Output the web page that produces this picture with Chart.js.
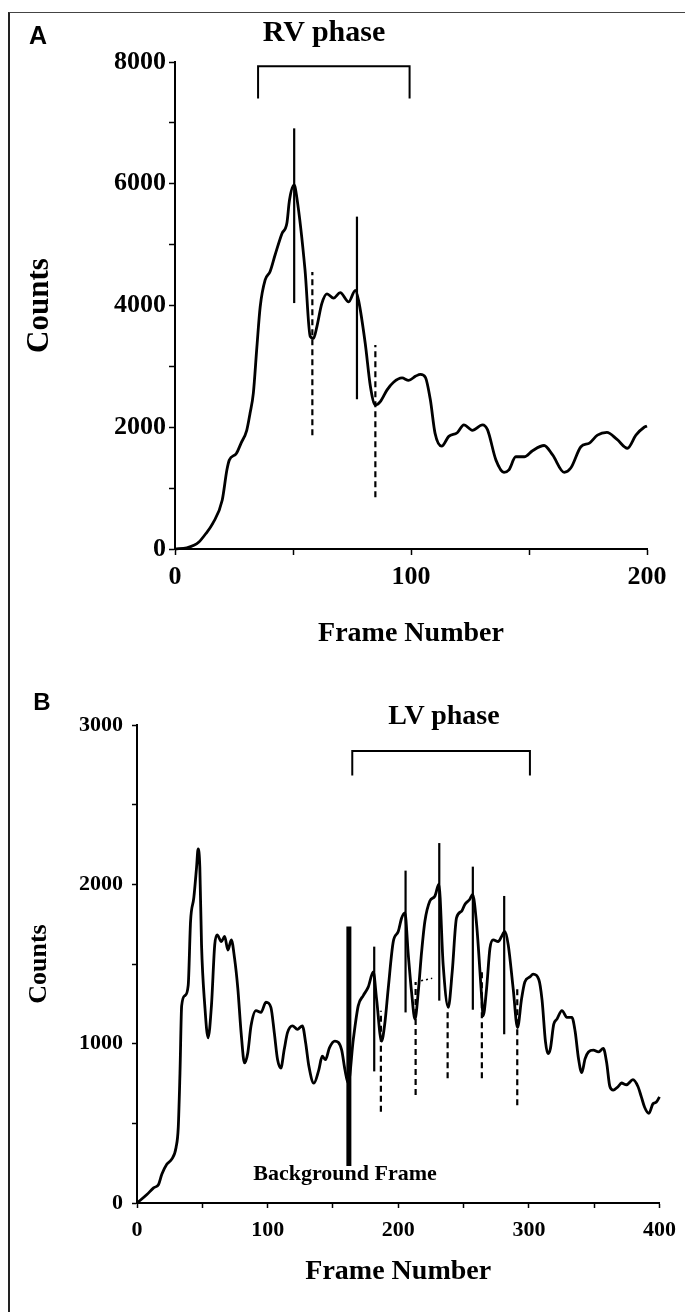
<!DOCTYPE html>
<html>
<head>
<meta charset="utf-8">
<title>RV and LV phase time-activity curves</title>
<script src="https://cdn.jsdelivr.net/npm/chart.js@4.4.1/dist/chart.umd.min.js"></script>
<style>
  body { margin: 0; background: #fff; }
  #page { position: relative; width: 685px; height: 1312px; overflow: hidden; background: #fff; }
  #frame { position: absolute; left: 8px; top: 12px; width: 700px; height: 1320px;
           border-left: 2px solid #222; border-top: 1.5px solid #444; }
  canvas { position: absolute; left: 0; }
  .lbl { position: absolute; transform: translate(-50%, -50%); white-space: nowrap; line-height: 1;
         font-family: 'Liberation Serif', 'Times New Roman', serif; font-weight: bold; color: #000; }
  .panel { font-family: 'Liberation Sans', Arial, sans-serif; }
</style>
</head>
<body>
<div id="page">
  <div id="frame"></div>
  <canvas id="chartA" width="685" height="660" style="top:0"></canvas>
  <canvas id="chartB" width="685" height="652" style="top:660px"></canvas>
  <div class="lbl panel" style="left:38px;top:35px;font-size:25px">A</div>
  <div class="lbl" style="left:324px;top:31px;font-size:30px">RV phase</div>
  <div class="lbl panel" style="left:42px;top:702px;font-size:24px">B</div>
  <div class="lbl" style="left:444px;top:715px;font-size:28px">LV phase</div>
  <div class="lbl" style="left:345px;top:1173px;font-size:22px">Background Frame</div>
</div>
<script>
// ---- Panel A: first pass, frames 0-200 ----
const frameA = [0, 5, 8, 10, 13, 16, 20, 22, 23, 26,
  28, 30.4, 31.8, 33.2, 34.7, 36.1, 38.2, 40.3, 42.4, 45.3,
  47.4, 48.5, 50.5, 51.6, 55.1, 57.3, 58.7, 60.1, 62.2, 64.4,
  67.2, 70, 73.6, 76.4, 77.8, 80.6, 82.8, 84.9, 87, 89.8,
  92.6, 96.2, 99, 102, 104, 106.1, 108.2, 110.2, 113, 116,
  119.6, 122.4, 126, 130.3, 132.4, 136, 139.4, 141.5, 144.4, 148,
  151.5, 156.4, 160, 164.9, 167.7, 172, 175.6, 179, 183, 187.3,
  191.7, 195.3, 198.8, 200];
const countsA = [0, 20, 60, 110, 250, 420, 800, 1300, 1460, 1570,
  1740, 1950, 2230, 2560, 3320, 3980, 4420, 4560, 4830, 5180,
  5350, 5730, 5980, 5780, 4580, 3490, 3460, 3650, 4030, 4190,
  4120, 4210, 4060, 4250, 4080, 3380, 2670, 2365, 2420, 2610,
  2740, 2810, 2770, 2840, 2870, 2820, 2450, 1900, 1690, 1850,
  1910, 2040, 1950, 2040, 1960, 1460, 1260, 1300, 1515, 1515,
  1615, 1700, 1545, 1260, 1330, 1680, 1740, 1870, 1915, 1800,
  1655, 1870, 2000, 2020];

// peak (solid) and trough (dashed) markers
const solidFrameA = [50.5, 77.1];
const solidLowA = [4040, 2460];
const solidHighA = [6910, 5460];
const dashFrameA = [58.2, 84.9];
const dashLowA = [1870, 850];
const dashHighA = [4550, 3350];

// RV phase bracket
const bracketFrameA = [35.2, 35.2, 99.4, 99.4];
const bracketCountA = [7400, 7930, 7930, 7400];

const xLabelsA = [0, 100, 200];
const yLabelsA = [0, 2000, 4000, 6000, 8000];

// ---- Panel B: full study, frames 0-400 ----
const frameB = [0, 7.6, 12.7, 16.5, 19, 22.8, 26.6, 29.9, 31.6, 32.9,
  34.2, 36.7, 39.2, 41, 43.5, 45.6, 46.8, 48.1, 49.4, 51.9,
  54.4, 57, 59.5, 61.3, 64.6, 67.1, 69.6, 72.2, 74.7, 77.2,
  79.7, 82.3, 84.8, 87.3, 91.1, 94.9, 98.7, 102.5, 105.1, 107.6,
  110.1, 112.7, 115.2, 119, 122.8, 126.6, 129.1, 131.6, 135.4, 139.2,
  141.8, 144.3, 147.3, 151.5, 156.6, 159.2, 161.7, 165.6, 169.4, 173.2,
  177, 180.9, 183.4, 187.2, 189.8, 192.3, 196.2, 200, 202.6, 205.1,
  207.7, 210.2, 212.8, 215.3, 217.9, 220.4, 224.2, 228.1, 231.1, 234.4,
  238.3, 241.3, 244.6, 248.5, 251, 254.8, 256.9, 260, 263.8, 265,
  267.6, 270.2, 272.7, 276.5, 279.1, 281.6, 284.2, 288, 291.3, 294.4,
  296.9, 300.8, 303.3, 307.6, 310.1, 312.7, 314.6, 316.5, 319, 321.5,
  325.3, 329.1, 332.9, 335.4, 338, 340.5, 343, 345.6, 349.4, 353.2,
  357, 359.5, 362, 364.6, 368.4, 370.9, 374.7, 379.7, 383.5, 386.1,
  388.6, 391.9, 395, 397.5, 400];
const countsB = [0, 53, 95, 116, 180, 243, 275, 349, 476, 815,
  1239, 1302, 1366, 1768, 1916, 2107, 2223, 2107, 1620, 1239,
  1037, 1239, 1620, 1683, 1641, 1673, 1588, 1652, 1535, 1345,
  1069, 879, 942, 1112, 1207, 1196, 1260, 1228, 1069, 900,
  847, 963, 1069, 1112, 1090, 1112, 1006, 858, 752, 836,
  921, 900, 974, 1016, 963, 836, 752, 1027, 1239, 1302,
  1355, 1450, 1281, 1016, 1133, 1344, 1641, 1704, 1789, 1821,
  1556, 1323, 1154, 1323, 1577, 1768, 1895, 1927, 2001, 1493,
  1228, 1450, 1789, 1831, 1874, 1906, 1937, 1747, 1302, 1175,
  1344, 1599, 1652, 1641, 1673, 1704, 1620, 1344, 1101, 1281,
  1387, 1419, 1436, 1403, 1273, 1013, 937, 970, 1121, 1154,
  1208, 1165, 1165, 1078, 905, 818, 905, 948, 959, 948,
  970, 883, 731, 709, 731, 753, 742, 774, 731, 666,
  601, 562, 623, 633, 666];

const solidFrameB = [181.6, 205.6, 231.4, 257.1, 281.1];
const solidLowB = [826, 1196, 1270, 1213, 1059];
const solidHighB = [1609, 2086, 2259, 2111, 1927];
const dashFrameB = [186.7, 213.3, 237.8, 264, 291.1];
const dashLowB = [572, 678, 783, 783, 614];
const dashHighB = [1207, 1387, 1207, 1471, 1355];

// faint dotted trace left near the second trough
const dotFrameB = [217.5, 226];
const dotCountB = [1395, 1410];

// background frame bar
const bgFrameB = [162.2];
const bgLowB = [233];
const bgHighB = [1736];

// LV phase bracket
const bracketFrameB = [164.8, 164.8, 300.8, 300.8];
const bracketCountB = [2683, 2837, 2837, 2683];

const xLabelsB = [0, 100, 200, 300, 400];
const yLabelsB = [0, 1000, 2000, 3000];

function points(xs, ys) {
    return xs.map((x, i) => ({ x: x, y: ys[i] }));
}

function curve(xs, ys) {
    return {
        data: points(xs, ys),
        borderColor: '#000',
        borderWidth: 2.8,
        pointRadius: 0,
        cubicInterpolationMode: 'monotone',
        clip: false
    };
}

// one vertical segment per marker frame
function markers(xs, lo, hi, width, dash) {
    return xs.map((x, i) => ({
        data: [{ x: x, y: lo[i] }, { x: x, y: hi[i] }],
        borderColor: '#000',
        borderWidth: width,
        borderDash: dash,
        pointRadius: 0,
        tension: 0,
        clip: false
    }));
}

function polyline(xs, ys, width, dash) {
    return {
        data: points(xs, ys),
        borderColor: '#000',
        borderWidth: width,
        borderDash: dash,
        pointRadius: 0,
        tension: 0,
        clip: false
    };
}

function serif(size) {
    return { family: "'Liberation Serif', 'Times New Roman', serif", size: size, weight: 'bold' };
}

function makePanel(canvasId, o) {
    new Chart(document.getElementById(canvasId), {
        type: 'line',
        data: { datasets: o.datasets },
        options: {
            responsive: false,
            animation: false,
            devicePixelRatio: 1,
            layout: { padding: { left: 0, top: o.top, right: o.right, bottom: 0 } },
            plugins: { legend: { display: false }, tooltip: { enabled: false } },
            scales: {
                x: {
                    type: 'linear',
                    min: 0,
                    max: o.xMax,
                    afterFit: s => { s.height = o.xHeight; },
                    border: { display: true, color: '#000', width: 2 },
                    grid: { drawOnChartArea: false, tickLength: o.tickLen, tickColor: '#000', tickWidth: 1.5 },
                    ticks: {
                        stepSize: o.xStep,
                        autoSkip: false,
                        maxRotation: 0,
                        color: '#000',
                        padding: o.xPad,
                        font: serif(o.tickSize),
                        callback: v => o.xLabels.includes(v) ? String(v) : ''
                    },
                    title: {
                        display: true,
                        text: 'Frame Number',
                        color: '#000',
                        font: serif(o.xTitleSize),
                        padding: { top: 0, bottom: o.xTitlePad }
                    }
                },
                y: {
                    type: 'linear',
                    min: 0,
                    max: o.yMax,
                    afterFit: s => { s.width = o.yWidth; },
                    border: { display: true, color: '#000', width: 2 },
                    grid: { drawOnChartArea: false, tickLength: o.tickLen, tickColor: '#000', tickWidth: 1.5 },
                    ticks: {
                        stepSize: o.yStep,
                        autoSkip: false,
                        color: '#000',
                        padding: o.yPad,
                        font: serif(o.tickSize),
                        callback: v => o.yLabels.includes(v) ? String(v) : ''
                    },
                    title: {
                        display: true,
                        text: 'Counts',
                        color: '#000',
                        font: serif(o.yTitleSize),
                        padding: { top: o.yTitlePad, bottom: 0 }
                    }
                }
            }
        }
    });
}

document.addEventListener('DOMContentLoaded', () => {
    makePanel('chartA', {
        datasets: [
            curve(frameA, countsA),
            ...markers(solidFrameA, solidLowA, solidHighA, 2.2, []),
            ...markers(dashFrameA, dashLowA, dashHighA, 2.2, [6, 4]),
            polyline(bracketFrameA, bracketCountA, 2, [])
        ],
        top: 62, right: 38, xHeight: 111, yWidth: 175,
        xMax: 200, yMax: 8000, xStep: 50, yStep: 1000,
        xLabels: xLabelsA, yLabels: yLabelsA,
        tickLen: 6, tickSize: 26, xPad: 7, yPad: 3,
        xTitleSize: 28, xTitlePad: 9, yTitleSize: 31, yTitlePad: 21
    });

    makePanel('chartB', {
        datasets: [
            curve(frameB, countsB),
            ...markers(solidFrameB, solidLowB, solidHighB, 2.2, []),
            ...markers(dashFrameB, dashLowB, dashHighB, 2.2, [6, 4]),
            ...markers(bgFrameB, bgLowB, bgHighB, 5, []),
            polyline(dotFrameB, dotCountB, 1.5, [2, 3]),
            polyline(bracketFrameB, bracketCountB, 2, [])
        ],
        top: 65, right: 22, xHeight: 109, yWidth: 137,
        xMax: 400, yMax: 3000, xStep: 50, yStep: 500,
        xLabels: xLabelsB, yLabels: yLabelsB,
        tickLen: 5, tickSize: 22, xPad: 9, yPad: 9,
        xTitleSize: 28, xTitlePad: 23, yTitleSize: 26, yTitlePad: 24
    });
});
</script>
</body>
</html>
